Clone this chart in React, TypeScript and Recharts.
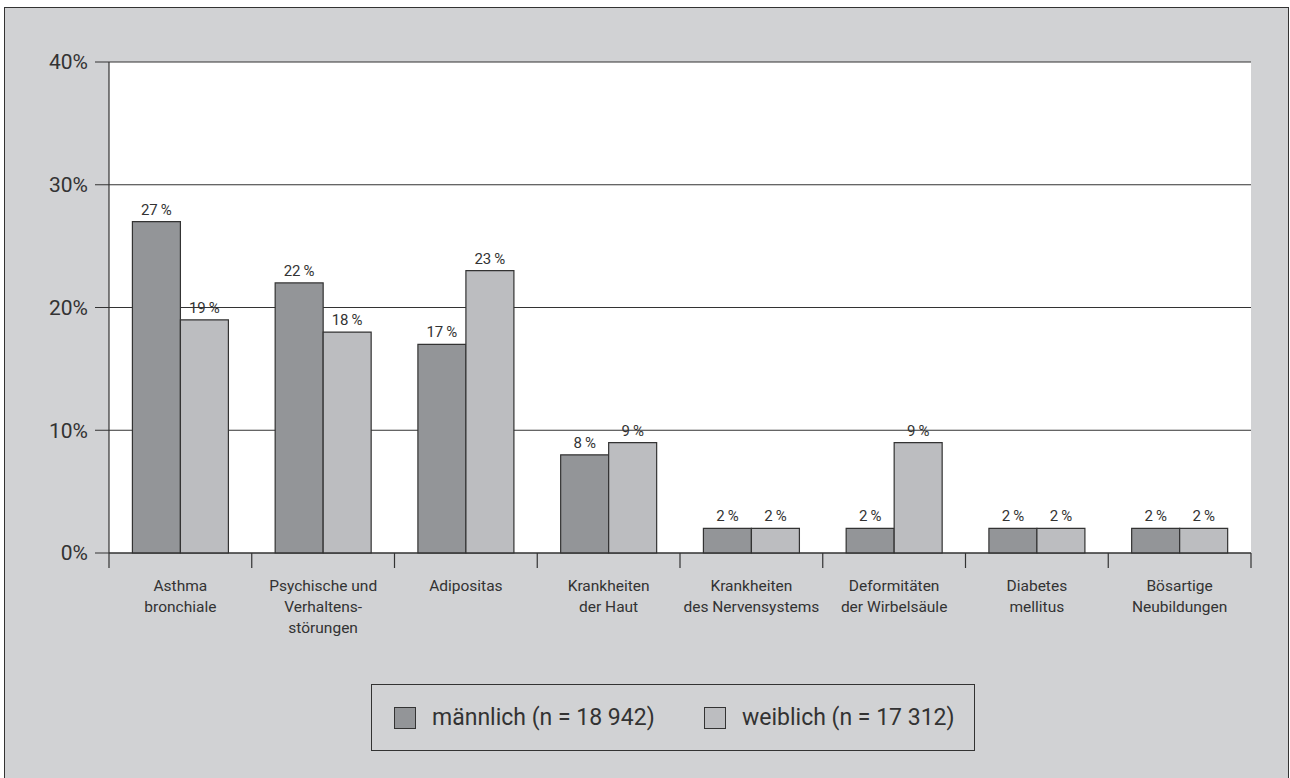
import { BarChart, Bar, XAxis, YAxis, CartesianGrid, LabelList } from "recharts";

const categories = [
  ["Asthma", "bronchiale"],
  ["Psychische und", "Verhaltens-", "störungen"],
  ["Adipositas"],
  ["Krankheiten", "der Haut"],
  ["Krankheiten", "des Nervensystems"],
  ["Deformitäten", "der Wirbelsäule"],
  ["Diabetes", "mellitus"],
  ["Bösartige", "Neubildungen"],
];
const maleValues = [27, 22, 17, 8, 2, 2, 2, 2];
const femaleValues = [19, 18, 23, 9, 2, 9, 2, 2];
const yTicks = [0, 10, 20, 30, 40];
const seriesNames = ["männlich (n = 18 942)", "weiblich (n = 17 312)"];

const data = categories.map((lines, i) => ({
  name: lines.join(" "),
  lines,
  male: maleValues[i],
  female: femaleValues[i],
}));

const FONT = "Roboto, 'DejaVu Sans', sans-serif";
const INK = "#333333";
const BG = "#d1d2d4";
const DARK = "#939598";
const LIGHT = "#bcbdc0";

const W = 1290;
const H = 778;
const M = { top: 62, right: 39, left: 0, bottom: 145 };
const Y_W = 109;
const X_H = 80;
const band = (W - Y_W - M.right) / categories.length;

function CategoryTick(props: any) {
  const { x, y, index } = props;
  const lines: string[] = data[index].lines;
  const left = x - band / 2;
  return (
    <g>
      <line x1={left} y1={y} x2={left} y2={y + 15} stroke={INK} strokeWidth={1.2} />
      {index === data.length - 1 && (
        <line x1={x + band / 2} y1={y} x2={x + band / 2} y2={y + 15} stroke={INK} strokeWidth={1.2} />
      )}
      <text textAnchor="middle" fontFamily={FONT} fontSize={15.5} fill={INK}>
        {lines.map((l, i) => (
          <tspan key={i} x={x} y={y + 38 + i * 21}>
            {l}
          </tspan>
        ))}
      </text>
    </g>
  );
}

const pct = (v: any) => `${v}\u2009%`;

export default function App() {
  return (
    <div style={{ position: "absolute", left: 0, top: 0, width: W, height: H, overflow: "hidden", background: "#fff" }}>
      <div
        style={{
          position: "absolute",
          left: 4,
          top: 7,
          width: 1283,
          height: 790,
          background: BG,
          border: `1.5px solid ${INK}`,
        }}
      />
      <div style={{ position: "absolute", left: 0, top: 0 }}>
        <BarChart
          width={W}
          height={H}
          data={data}
          margin={M}
          barCategoryGap="16.4%"
          barGap={0}
        >
          <CartesianGrid vertical={false} stroke={INK} strokeWidth={1} fill="#ffffff" fillOpacity={1} />
          <XAxis
            dataKey="name"
            interval={0}
            height={X_H}
            tickLine={false}
            tickSize={0}
            tickMargin={0}
            axisLine={{ stroke: INK, strokeWidth: 1.2 }}
            tick={<CategoryTick />}
          />
          <YAxis
            width={Y_W}
            domain={[0, 40]}
            ticks={yTicks}
            tickFormatter={(v: number) => `${v}%`}
            tickSize={14}
            tickMargin={7}
            tickLine={{ stroke: INK }}
            axisLine={{ stroke: INK, strokeWidth: 1.2 }}
            tick={{ fontFamily: FONT, fontSize: 21, fill: INK }}
          />
          <Bar dataKey="male" name={seriesNames[0]} fill={DARK} stroke={INK} strokeWidth={1.2} isAnimationActive={false}>
            <LabelList
              dataKey="male"
              position="top"
              offset={7}
              formatter={pct}
              style={{ fontFamily: FONT, fontSize: 15, fill: INK }}
            />
          </Bar>
          <Bar dataKey="female" name={seriesNames[1]} fill={LIGHT} stroke={INK} strokeWidth={1.2} isAnimationActive={false}>
            <LabelList
              dataKey="female"
              position="top"
              offset={7}
              formatter={pct}
              style={{ fontFamily: FONT, fontSize: 15, fill: INK }}
            />
          </Bar>
        </BarChart>
      </div>
      <div
        style={{
          position: "absolute",
          left: 371,
          top: 684,
          width: 604,
          height: 67,
          boxSizing: "border-box",
          border: `1px solid ${INK}`,
          background: BG,
          fontFamily: FONT,
          fontSize: 23,
          color: INK,
        }}
      >
        {seriesNames.map((n, i) => (
          <div key={n} style={{ position: "absolute", left: i === 0 ? 22 : 332, top: 22, display: "flex", alignItems: "center" }}>
            <span
              style={{
                display: "inline-block",
                width: 22,
                height: 22,
                boxSizing: "border-box",
                background: i === 0 ? DARK : LIGHT,
                border: `1px solid ${INK}`,
                marginRight: 16,
              }}
            />
            <span style={{ lineHeight: "22px" }}>{n}</span>
          </div>
        ))}
      </div>
    </div>
  );
}
